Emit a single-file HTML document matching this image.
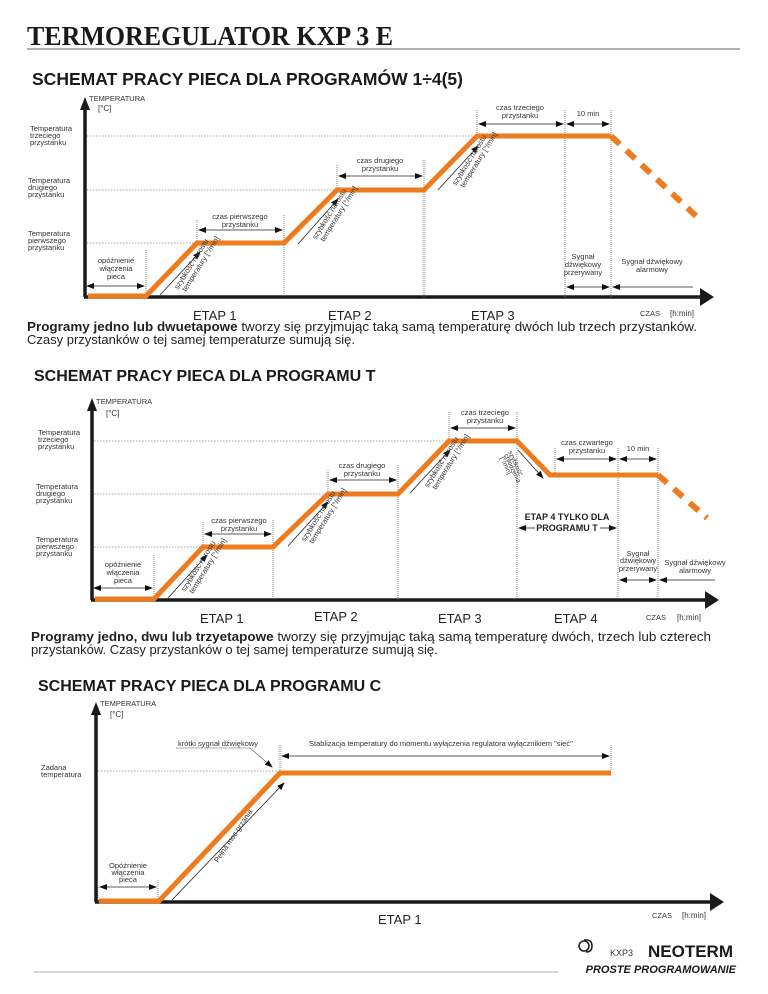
<!DOCTYPE html>
<html><head><meta charset="utf-8"><style>
html,body{margin:0;padding:0;background:#fff;}
svg{display:block;font-family:"Liberation Sans",sans-serif;}
.s{font-size:7.5px;fill:#333;}
.m{font-size:8px;fill:#333;}
.e{font-size:13px;fill:#222;}
.d{stroke:#888;stroke-width:0.8;stroke-dasharray:1.5 1.5;fill:none;}
.v{stroke:#666;stroke-width:0.8;stroke-dasharray:1 1;fill:none;}
.o{stroke:#ee7b1e;stroke-width:5;fill:none;stroke-linejoin:miter;}
.od{stroke:#ee7b1e;stroke-width:6;fill:none;stroke-dasharray:12 9;}
.ax{stroke:#1a1a1a;stroke-width:3.5;fill:none;}
.a{stroke:#222;stroke-width:0.8;fill:none;marker-start:url(#ms);marker-end:url(#me);}
.a1{stroke:#222;stroke-width:0.8;fill:none;marker-end:url(#me);}
.t{stroke:#555;stroke-width:0.6;fill:none;}
</style></head><body>
<svg width="768" height="994" viewBox="0 0 768 994" xmlns="http://www.w3.org/2000/svg">
<defs>
<marker id="me" markerWidth="8" markerHeight="6" refX="7" refY="3" orient="auto" markerUnits="userSpaceOnUse"><path d="M0,0 L8,3 L0,6z" fill="#111"/></marker>
<marker id="ms" markerWidth="8" markerHeight="6" refX="1" refY="3" orient="auto" markerUnits="userSpaceOnUse"><path d="M8,0 L0,3 L8,6z" fill="#111"/></marker>
</defs>
<text x="27" y="45" font-family="Liberation Serif,serif" font-weight="bold" font-size="27" fill="#1a1a1a" textLength="366" lengthAdjust="spacingAndGlyphs">TERMOREGULATOR  KXP 3 E</text>
<line x1="27" y1="49" x2="740" y2="49" stroke="#999" stroke-width="1.5"/>

<!-- CHART 1 -->
<text x="32" y="85" font-weight="bold" font-size="17.5" fill="#1a1a1a" textLength="431" lengthAdjust="spacingAndGlyphs">SCHEMAT PRACY PIECA DLA PROGRAMÓW 1÷4(5)</text>
<path d="M80,110 L85,97 L90,110z" fill="#1a1a1a"/>
<text x="89" y="101" class="s">TEMPERATURA</text><text x="98" y="111" class="m">[°C]</text>
<line x1="85" y1="105" x2="85" y2="297" class="ax"/>
<line x1="84" y1="297" x2="703" y2="297" class="ax"/>
<path d="M700,288 L714,297 L700,306z" fill="#1a1a1a"/>
<line x1="87" y1="136" x2="477" y2="136" class="d"/>
<line x1="87" y1="190" x2="337" y2="190" class="d"/>
<line x1="87" y1="243" x2="197" y2="243" class="d"/>
<line x1="146" y1="250" x2="146" y2="297" class="v"/>
<line x1="284" y1="215" x2="284" y2="297" class="v"/>
<line x1="424" y1="160" x2="424" y2="297" class="v"/>
<line x1="477" y1="110" x2="477" y2="136" class="v"/>
<line x1="565" y1="110" x2="565" y2="297" class="v"/>
<line x1="611" y1="110" x2="611" y2="297" class="v"/>
<line x1="337" y1="165" x2="337" y2="190" class="v"/>
<line x1="197" y1="220" x2="197" y2="243" class="v"/>
<g class="s"><text x="30" y="131">Temperatura</text><text x="30" y="138">trzeciego</text><text x="30" y="145">przystanku</text>
<text x="28" y="183">Temperatura</text><text x="28" y="190">drugiego</text><text x="28" y="197">przystanku</text>
<text x="28" y="236">Temperatura</text><text x="28" y="243">pierwszego</text><text x="28" y="250">przystanku</text></g>
<g class="s" text-anchor="middle"><text x="116" y="263">opóźnienie</text><text x="116" y="271">włączenia</text><text x="116" y="279">pieca</text>
<text x="240" y="219">czas pierwszego</text><text x="240" y="227">przystanku</text>
<text x="380" y="163">czas drugiego</text><text x="380" y="171">przystanku</text>
<text x="520" y="110">czas trzeciego</text><text x="520" y="118">przystanku</text>
<text x="588" y="116">10 min</text>
<text x="583" y="259">Sygnał</text><text x="583" y="267">dźwiękowy</text><text x="583" y="275">przerywany</text>
<text x="652" y="264">Sygnał dźwiękowy</text><text x="652" y="272">alarmowy</text></g>
<line x1="87" y1="286" x2="144" y2="286" class="a"/>
<line x1="199" y1="230" x2="282" y2="230" class="a"/>
<line x1="339" y1="176" x2="422" y2="176" class="a"/>
<line x1="479" y1="124" x2="563" y2="124" class="a"/>
<line x1="567" y1="124" x2="609" y2="124" class="a"/>
<line x1="567" y1="287" x2="609" y2="287" class="a"/>
<line x1="693" y1="287" x2="613" y2="287" class="a1"/>
<path d="M88,296 L146,296 L197,243 L284,243 L337,190 L424,190 L477,136 L611,136" class="o"/>
<path d="M611,136 L696,216" class="od"/>
<line x1="160" y1="295" x2="200" y2="252" class="a1"/><line x1="298" y1="244" x2="338" y2="199" class="a1"/><line x1="438" y1="190" x2="478" y2="146" class="a1"/>
<g class="s"><text transform="translate(178,290) rotate(-58)">szybkość narostu</text><text transform="translate(186,292) rotate(-58)">temperatury [°/min]</text>
<text transform="translate(316,240) rotate(-58)">szybkość narostu</text><text transform="translate(324,242) rotate(-58)">temperatury [°/min]</text>
<text transform="translate(456,186) rotate(-58)">szybkość narostu</text><text transform="translate(464,188) rotate(-58)">temperatury [°/min]</text></g>
<text x="193" y="320" class="e">ETAP 1</text><text x="328" y="320" class="e">ETAP 2</text><text x="471" y="320" class="e">ETAP 3</text>
<text x="640" y="316" class="s">CZAS</text><text x="670" y="316" class="m">[h:min]</text>
<text x="27" y="331" font-size="13" fill="#222" textLength="670" lengthAdjust="spacingAndGlyphs"><tspan font-weight="bold">Programy  jedno lub dwuetapowe</tspan>  tworzy się przyjmując taką samą temperaturę dwóch lub trzech przystanków.</text>
<text x="27" y="344" font-size="13" fill="#222">Czasy przystanków o tej samej temperaturze sumują się.</text>

<!-- CHART 2 -->
<text x="34" y="381" font-weight="bold" font-size="16" fill="#1a1a1a">SCHEMAT PRACY PIECA DLA PROGRAMU  T</text>
<path d="M87,411 L92,398 L97,411z" fill="#1a1a1a"/>
<text x="96" y="404" class="s">TEMPERATURA</text><text x="106" y="416" class="m">[°C]</text>
<line x1="92" y1="405" x2="92" y2="600" class="ax"/>
<line x1="91" y1="600" x2="708" y2="600" class="ax"/>
<path d="M705,591 L719,600 L705,609z" fill="#1a1a1a"/>
<line x1="94" y1="441" x2="449" y2="441" class="d"/>
<line x1="94" y1="494" x2="328" y2="494" class="d"/>
<line x1="94" y1="547" x2="203" y2="547" class="d"/>
<line x1="154" y1="555" x2="154" y2="600" class="v"/>
<line x1="273" y1="520" x2="273" y2="600" class="v"/>
<line x1="398" y1="465" x2="398" y2="600" class="v"/>
<line x1="517" y1="412" x2="517" y2="600" class="v"/>
<line x1="449" y1="412" x2="449" y2="441" class="v"/>
<line x1="328" y1="470" x2="328" y2="494" class="v"/>
<line x1="203" y1="522" x2="203" y2="547" class="v"/>
<line x1="555" y1="448" x2="555" y2="475" class="v"/>
<line x1="618" y1="448" x2="618" y2="600" class="v"/>
<line x1="658" y1="448" x2="658" y2="600" class="v"/>
<g class="s"><text x="38" y="435">Temperatura</text><text x="38" y="442">trzeciego</text><text x="38" y="449">przystanku</text>
<text x="36" y="489">Temperatura</text><text x="36" y="496">drugiego</text><text x="36" y="503">przystanku</text>
<text x="36" y="542">Temperatura</text><text x="36" y="549">pierwszego</text><text x="36" y="556">przystanku</text></g>
<g class="s" text-anchor="middle"><text x="123" y="567">opóźnienie</text><text x="123" y="575">włączenia</text><text x="123" y="583">pieca</text>
<text x="239" y="523">czas pierwszego</text><text x="239" y="531">przystanku</text>
<text x="362" y="468">czas drugiego</text><text x="362" y="476">przystanku</text>
<text x="485" y="415">czas trzeciego</text><text x="485" y="423">przystanku</text>
<text x="587" y="445">czas czwartego</text><text x="587" y="453">przystanku</text>
<text x="638" y="451">10 min</text>
<text x="638" y="556">Sygnał</text><text x="638" y="563">dźwiękowy</text><text x="638" y="571">przerywany</text>
<text x="695" y="565">Sygnał dźwiękowy</text><text x="695" y="573">alarmowy</text></g>
<text x="567" y="520" text-anchor="middle" font-size="9" font-weight="bold" fill="#222">ETAP 4 TYLKO DLA</text>
<text x="567" y="531" text-anchor="middle" font-size="9" font-weight="bold" fill="#222">PROGRAMU T</text>
<line x1="519" y1="528" x2="535" y2="528" class="a" style="marker-end:none"/>
<line x1="600" y1="528" x2="616" y2="528" class="a1"/>
<line x1="94" y1="588" x2="152" y2="588" class="a"/>
<line x1="205" y1="534" x2="271" y2="534" class="a"/>
<line x1="330" y1="480" x2="396" y2="480" class="a"/>
<line x1="451" y1="428" x2="515" y2="428" class="a"/>
<line x1="557" y1="459" x2="616" y2="459" class="a"/>
<line x1="620" y1="459" x2="656" y2="459" class="a"/>
<line x1="620" y1="580" x2="656" y2="580" class="a"/>
<line x1="715" y1="580" x2="660" y2="580" class="a1"/>
<path d="M95,599 L154,599 L203,547 L273,547 L328,494 L398,494 L449,441 L517,441 L550,475 L658,475" class="o"/>
<path d="M658,475 L707,518" class="od"/>
<line x1="168" y1="598" x2="207" y2="555" class="a1"/><line x1="288" y1="546" x2="328" y2="502" class="a1"/><line x1="410" y1="493" x2="450" y2="450" class="a1"/><line x1="518" y1="450" x2="543" y2="478" class="a1"/>
<g class="s"><text transform="translate(185,592) rotate(-58)">szybkość narostu</text><text transform="translate(193,594) rotate(-58)">temperatury [°/min]</text>
<text transform="translate(305,542) rotate(-58)">szybkość narostu</text><text transform="translate(313,544) rotate(-58)">temperatury [°/min]</text>
<text transform="translate(428,488) rotate(-58)">szybkość narostu</text><text transform="translate(436,490) rotate(-58)">temperatury [°/min]</text>
<text transform="translate(508,452) rotate(65)" font-size="6.5">szybkość</text><text transform="translate(504,455) rotate(65)" font-size="6.5">chłodzenia</text><text transform="translate(500,458) rotate(65)" font-size="6.5">[°/min]</text></g>
<text x="200" y="623" class="e">ETAP 1</text><text x="314" y="621" class="e">ETAP 2</text><text x="438" y="623" class="e">ETAP 3</text><text x="554" y="623" class="e">ETAP 4</text>
<text x="646" y="620" class="s">CZAS</text><text x="677" y="620" class="m">[h:min]</text>
<text x="31" y="641" font-size="13" fill="#222" textLength="680" lengthAdjust="spacingAndGlyphs"><tspan font-weight="bold">Programy  jedno, dwu lub trzyetapowe</tspan> tworzy się przyjmując taką samą temperaturę dwóch, trzech lub czterech</text>
<text x="31" y="654" font-size="13" fill="#222">przystanków. Czasy przystanków o tej samej temperaturze sumują się.</text>

<!-- CHART 3 -->
<text x="38" y="691" font-weight="bold" font-size="16" fill="#1a1a1a">SCHEMAT PRACY PIECA DLA PROGRAMU C</text>
<path d="M91,715 L96,702 L101,715z" fill="#1a1a1a"/>
<text x="100" y="706" class="s">TEMPERATURA</text><text x="110" y="717" class="m">[°C]</text>
<line x1="96" y1="710" x2="96" y2="902" class="ax"/>
<line x1="95" y1="902" x2="712" y2="902" class="ax"/>
<path d="M710,893 L724,902 L710,911z" fill="#1a1a1a"/>
<line x1="98" y1="771" x2="278" y2="771" class="d"/>
<line x1="98" y1="887" x2="98" y2="902" class="v"/>
<line x1="158" y1="880" x2="158" y2="902" class="v"/>
<line x1="280" y1="745" x2="280" y2="771" class="v"/>
<line x1="611" y1="745" x2="611" y2="770" class="v"/>
<g class="s"><text x="41" y="770">Zadana</text><text x="41" y="777">temperatura</text></g>
<g class="s" text-anchor="middle"><text x="128" y="868">Opóźnienie</text><text x="128" y="875">włączenia</text><text x="128" y="882">pieca</text></g>
<text x="178" y="746" class="s" font-size="7">krótki sygnał dźwiękowy</text>
<text x="309" y="746" class="s" font-size="7">Stablizacja temperatury do momentu wyłączenia regulatora wyłącznikiem "sieć"</text>
<path d="M176,748 L250,748 L272,767" class="t" marker-end="url(#me)"/>
<line x1="282" y1="756" x2="609" y2="756" class="a"/>
<line x1="100" y1="887" x2="156" y2="887" class="a"/>
<path d="M99,901 L159,901 L280,773 L611,773" class="o"/>
<line x1="172" y1="900" x2="284" y2="783" class="a1"/>
<text transform="translate(218,863) rotate(-56)" class="s" font-size="7">Pełna moc grzania</text>
<text x="378" y="924" class="e">ETAP 1</text>
<text x="652" y="918" class="s">CZAS</text><text x="682" y="918" class="m">[h:min]</text>

<!-- footer -->
<g transform="translate(578,940)" fill="none" stroke="#222" stroke-width="1.6"><circle cx="6" cy="6" r="5"/><path d="M6,0 Q14,-1 14,6 Q14,12 8,12"/></g>
<text x="610" y="956" font-size="9" fill="#333">KXP3</text>
<text x="648" y="957" font-size="17" font-weight="bold" fill="#1a1a1a">NEOTERM</text>
<text x="736" y="973" text-anchor="end" font-size="11" font-weight="bold" font-style="italic" fill="#1a1a1a">PROSTE PROGRAMOWANIE</text>
<line x1="34" y1="972" x2="558" y2="972" stroke="#ccc" stroke-width="1.5"/>
</svg>
</body></html>
